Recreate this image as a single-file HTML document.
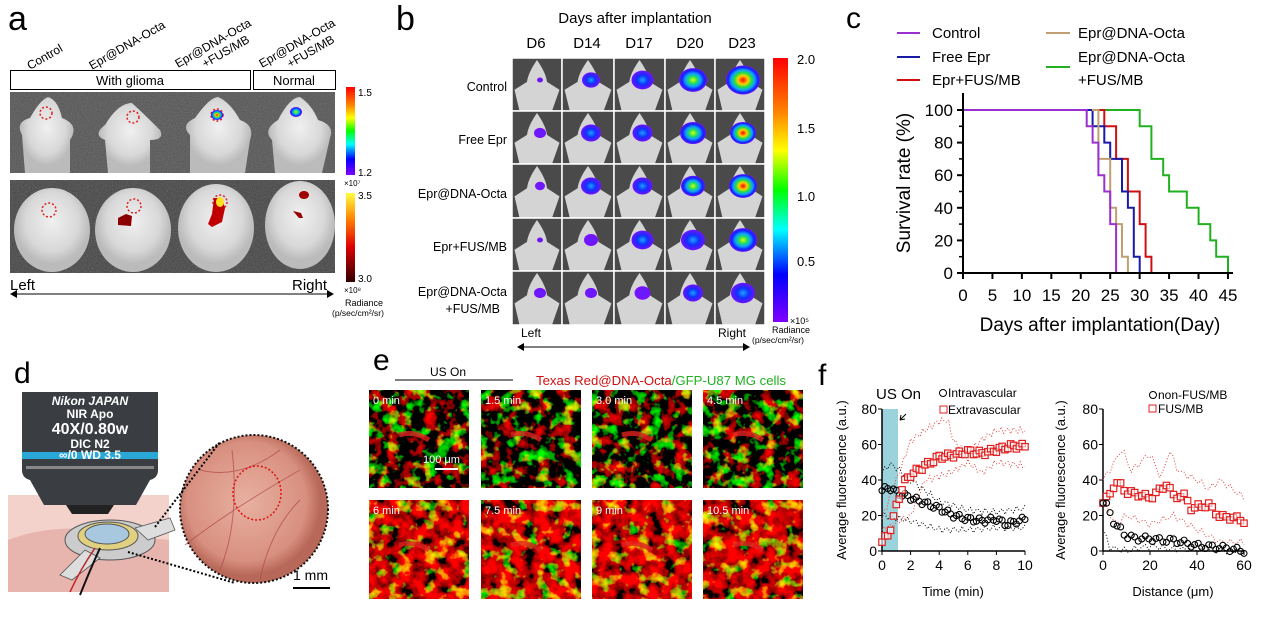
<!DOCTYPE html>
<html><head><meta charset="utf-8"><style>
html,body{margin:0;padding:0;background:#fff}
svg{display:block;font-family:"Liberation Sans",Arial,sans-serif}
</style></head><body>
<svg id="s" width="1270" height="623" viewBox="0 0 1270 623" xmlns="http://www.w3.org/2000/svg">
<defs>
<linearGradient id="rb" x1="0" y1="0" x2="0" y2="1">
<stop offset="0" stop-color="#ff0000"/><stop offset="0.2" stop-color="#ff8000"/><stop offset="0.35" stop-color="#ffff00"/><stop offset="0.5" stop-color="#00ff00"/><stop offset="0.65" stop-color="#00ffff"/><stop offset="0.82" stop-color="#0000ff"/><stop offset="1" stop-color="#8000ff"/></linearGradient>
<linearGradient id="hot" x1="0" y1="0" x2="0" y2="1">
<stop offset="0" stop-color="#ffff40"/><stop offset="0.3" stop-color="#ff8000"/><stop offset="0.6" stop-color="#e00000"/><stop offset="1" stop-color="#300000"/></linearGradient>
<radialGradient id="g1"><stop offset="0" stop-color="#6020ff"/><stop offset="1" stop-color="#7a10ff"/></radialGradient>
<radialGradient id="g2"><stop offset="0" stop-color="#20a0ff"/><stop offset="0.5" stop-color="#1030ff"/><stop offset="1" stop-color="#7010ff"/></radialGradient>
<radialGradient id="g3"><stop offset="0" stop-color="#e0ff00"/><stop offset="0.3" stop-color="#20e060"/><stop offset="0.55" stop-color="#10a0ff"/><stop offset="0.8" stop-color="#1020ff"/><stop offset="1" stop-color="#7010ff"/></radialGradient>
<radialGradient id="g4"><stop offset="0" stop-color="#ff0000"/><stop offset="0.3" stop-color="#ffd000"/><stop offset="0.5" stop-color="#20e040"/><stop offset="0.7" stop-color="#10a0ff"/><stop offset="0.88" stop-color="#1020ff"/><stop offset="1" stop-color="#7010ff"/></radialGradient>
<radialGradient id="mouse" cx="0.5" cy="0.4"><stop offset="0" stop-color="#f0f0f0"/><stop offset="0.7" stop-color="#d8d8d8"/><stop offset="1" stop-color="#bbb"/></radialGradient>
<radialGradient id="skin" cx="0.45" cy="0.45"><stop offset="0" stop-color="#e8b0a0"/><stop offset="0.8" stop-color="#d89080"/><stop offset="1" stop-color="#b86858"/></radialGradient>
<filter id="nz1" x="0" y="0" width="1" height="1"><feTurbulence type="fractalNoise" baseFrequency="0.08" numOctaves="3" seed="3"/><feColorMatrix values="3 0 0 0 -1.5  0 3.5 0 0 -1.85  0 0 0 0 0  0 0 0 0 1"/></filter>
<filter id="nz2" x="0" y="0" width="1" height="1"><feTurbulence type="fractalNoise" baseFrequency="0.08" numOctaves="3" seed="3"/><feColorMatrix values="3 0 0 0 -0.95  0 3 0 0 -1.65  0 0 0 0 0  0 0 0 0 1"/></filter>
<filter id="gn" x="0" y="0" width="1" height="1"><feTurbulence type="fractalNoise" baseFrequency="0.8" numOctaves="1" seed="2"/><feColorMatrix values="0 0 0 0 0.3  0 0 0 0 0.3  0 0 0 0 0.3  0.6 0 0 0 -0.1"/></filter>
</defs>

<!-- Panel a -->
<text x="8" y="30" font-size="34">a</text>
<g font-size="12">
<text transform="translate(30,70) rotate(-30)">Control</text>
<text transform="translate(92,70) rotate(-30)">Epr@DNA-Octa</text>
<text transform="translate(178,68) rotate(-30)">Epr@DNA-Octa</text>
<text transform="translate(205,68) rotate(-30)">+FUS/MB</text>
<text transform="translate(262,68) rotate(-30)">Epr@DNA-Octa</text>
<text transform="translate(290,68) rotate(-30)">+FUS/MB</text>
</g>
<rect x="10.5" y="70.5" width="240" height="19" fill="none" stroke="#000"/>
<rect x="253.5" y="70.5" width="82" height="19" fill="none" stroke="#000"/>
<text x="130" y="85" font-size="13" text-anchor="middle">With glioma</text>
<text x="294" y="85" font-size="13" text-anchor="middle">Normal</text>
<rect x="10" y="92" width="325" height="81" fill="#555"/>
<rect x="10" y="92" width="325" height="81" filter="url(#gn)"/>
<rect x="10" y="180" width="325" height="93" fill="#444"/>
<rect x="10" y="180" width="325" height="93" filter="url(#gn)"/>
<g fill="url(#mouse)">
<path d="M25,173 L22,135 Q15,122 30,118 Q40,100 48,97 Q58,100 62,118 Q80,125 70,140 L70,173Z"/>
<path d="M108,173 L105,140 Q92,135 105,125 Q118,103 132,103 Q145,115 160,130 Q165,140 150,140 L150,173Z"/>
<path d="M190,173 L190,135 Q180,125 195,118 Q210,97 218,97 Q230,102 240,120 Q255,125 250,140 L245,173Z"/>
<path d="M275,173 L272,140 Q262,130 278,120 Q290,97 300,97 Q312,105 318,120 Q335,125 330,138 L322,173Z"/>
<ellipse cx="52" cy="230" rx="38" ry="42"/><ellipse cx="133" cy="230" rx="38" ry="42"/>
<ellipse cx="216" cy="228" rx="38" ry="44"/><ellipse cx="300" cy="225" rx="35" ry="44"/>
</g>
<g fill="none" stroke="#e02020" stroke-width="1.5" stroke-dasharray="2,2">
<circle cx="46" cy="113" r="6"/><circle cx="133" cy="117" r="6"/><circle cx="217" cy="115" r="6"/>
<circle cx="49" cy="210" r="7"/><circle cx="134" cy="206" r="7"/><circle cx="220" cy="202" r="7"/>
</g>
<ellipse cx="217" cy="115" rx="6" ry="5" fill="url(#g4)"/><ellipse cx="296" cy="112" rx="6" ry="5" fill="url(#g3)"/>
<path d="M118,218 l8,-4 l6,2 l-1,10 l-13,-1z" fill="#8b0000"/>
<path d="M214,198 l8,0 l3,10 l-3,14 l-10,5 l-4,-3 l4,-10z" fill="#c00000"/><ellipse cx="220" cy="202" rx="4" ry="5" fill="#ffe020"/>
<ellipse cx="304" cy="195" rx="5" ry="4" fill="#a00000"/><path d="M293,211 l8,2 l2,5 l-4,0z" fill="#900"/>
<rect x="346" y="87" width="9" height="88" fill="url(#rb)"/>
<rect x="346" y="193" width="9" height="89" fill="url(#hot)"/>
<g font-size="10"><text x="358" y="96">1.5</text><text x="358" y="176">1.2</text><text x="344" y="186" font-size="8">×10⁷</text>
<text x="358" y="199">3.5</text><text x="358" y="282">3.0</text><text x="344" y="293" font-size="8">×10⁸</text>
<text x="345" y="306" font-size="9">Radiance</text><text x="332" y="316" font-size="8.5">(p/sec/cm²/sr)</text></g>
<text x="10" y="290" font-size="15">Left</text><text x="292" y="290" font-size="15">Right</text>
<line x1="14" y1="294" x2="330" y2="294" stroke="#000"/><path d="M10,294 l7,-4 v8z M334,294 l-7,-4 v8z"/>

<!-- Panel b -->
<text x="396" y="30" font-size="34">b</text>
<text x="635" y="23" font-size="15" text-anchor="middle">Days after implantation</text>
<g font-size="15" text-anchor="middle"><text x="536" y="48">D6</text><text x="587" y="48">D14</text><text x="639" y="48">D17</text><text x="690" y="48">D20</text><text x="742" y="48">D23</text></g>
<g font-size="12.5" text-anchor="end"><text x="507" y="91">Control</text><text x="507" y="144">Free Epr</text><text x="507" y="198">Epr@DNA-Octa</text><text x="507" y="251">Epr+FUS/MB</text><text x="507" y="296">Epr@DNA-Octa</text><text x="500" y="313">+FUS/MB</text></g>
<g id="bgrid"></g>
<rect x="773" y="58" width="15" height="264" fill="url(#rb)"/>
<g font-size="13"><text x="797" y="64">2.0</text><text x="797" y="133">1.5</text><text x="797" y="201">1.0</text><text x="797" y="266">0.5</text><text x="790" y="324" font-size="9">×10⁵</text>
<text x="772" y="333" font-size="9">Radiance</text><text x="752" y="343" font-size="8.5">(p/sec/cm²/sr)</text></g>
<text x="521" y="337" font-size="12">Left</text><text x="718" y="337" font-size="12">Right</text>
<line x1="522" y1="347" x2="745" y2="347" stroke="#000"/><path d="M517,347 l7,-4 v8z M750,347 l-7,-4 v8z"/>

<!-- Panel c -->
<text x="846" y="28" font-size="30">c</text>
<g font-size="15">
<line x1="897" y1="33" x2="920" y2="33" stroke="#9b30d0" stroke-width="2"/><text x="932" y="38">Control</text>
<line x1="897" y1="57" x2="920" y2="57" stroke="#1a1aa8" stroke-width="2"/><text x="932" y="62">Free Epr</text>
<line x1="897" y1="80" x2="920" y2="80" stroke="#d01010" stroke-width="2"/><text x="932" y="85">Epr+FUS/MB</text>
<line x1="1046" y1="33" x2="1070" y2="33" stroke="#c0a070" stroke-width="2"/><text x="1078" y="38">Epr@DNA-Octa</text>
<line x1="1046" y1="67" x2="1070" y2="67" stroke="#20b020" stroke-width="2"/><text x="1078" y="62">Epr@DNA-Octa</text><text x="1078" y="85">+FUS/MB</text>
</g>
<g fill="none" stroke-width="2">
<path stroke="#20b020" d="M963,110 H1139.7 V126.3 H1151.4 V158.9 H1163.2 V175.2 H1169.1 V191.5 H1186.8 V207.8 H1198.6 V224.1 H1210.3 V240.4 H1216.2 V256.7 H1228 V273"/>
<path stroke="#d01010" d="M963,110 H1104.3 V126.3 H1116.1 V158.9 H1127.9 V191.5 H1139.7 V224.1 H1145.6 V256.7 H1151.4 V273"/>
<path stroke="#1a1aa8" d="M963,110 H1092.6 V126.3 H1104.3 V142.6 H1110.2 V158.9 H1122 V191.5 H1127.9 V207.8 H1133.8 V256.7 H1139.7 V273"/>
<path stroke="#c0a070" d="M1092,110 H1098.4 V158.9 H1110.2 V207.8 H1116.1 V224.1 H1122 V256.7 H1127.9 V273"/>
<path stroke="#9b30d0" d="M963,110 H1086.7 V126.3 H1092.6 V142.6 H1098.4 V175.2 H1104.3 V191.5 H1110.2 V224.1 H1116.1 V273"/>
</g>
<g stroke="#000" stroke-width="2" fill="none"><path d="M963,93 V273 H1233"/></g>
<g id="cax"></g>
<text transform="translate(910,183) rotate(-90)" font-size="19" text-anchor="middle">Survival rate  (%)</text>
<text x="1100" y="331" font-size="19" text-anchor="middle">Days after implantation(Day)</text>

<!-- Panel d -->
<text x="14" y="383" font-size="30">d</text>
<rect x="8" y="495" width="161" height="97" fill="#f3d2cc"/>
<path d="M8,540 Q60,520 120,535 L169,540 V592 H8Z" fill="#e8b4ae"/>
<path d="M22,392 H158 V470 Q158,478 150,480 L136,505 H44 L30,480 Q22,478 22,470Z" fill="#3a3d42"/>
<rect x="22" y="452" width="136" height="7" fill="#29a8d8"/>
<rect x="26" y="466" width="128" height="3" fill="#888"/>
<path d="M66,505 H114 L108,514 H72Z" fill="#222"/>
<g fill="#fff" text-anchor="middle" font-weight="bold">
<text x="90" y="405" font-size="12" font-style="italic">Nikon JAPAN</text>
<text x="90" y="418" font-size="12">NIR Apo</text>
<text x="90" y="434" font-size="16">40X/0.80w</text>
<text x="90" y="448" font-size="12">DIC  N2</text>
<text x="90" y="459" font-size="12">∞/0  WD  3.5</text></g>
<ellipse cx="110" cy="540" rx="45" ry="20" fill="#ccc" stroke="#555"/>
<path d="M135,528 L170,518 L175,530 L148,540Z M85,550 L60,575 L72,580 L100,558Z" fill="#ddd" stroke="#555" stroke-width="0.8"/>
<ellipse cx="108" cy="536" rx="30" ry="14" fill="#e0d080" stroke="#555"/>
<ellipse cx="107" cy="534" rx="22" ry="10" fill="#a8c8e0" stroke="#555"/>
<path d="M100,548 Q90,570 80,595" stroke="#111" stroke-width="2" fill="none"/>
<path d="M95,548 Q80,570 70,592" stroke="#c02020" stroke-width="1.5" fill="none"/>
<ellipse cx="254" cy="509" rx="74" ry="74" fill="url(#skin)" stroke="#111" stroke-width="2" stroke-dasharray="2,2"/>
<g stroke="#b04848" stroke-width="1" fill="none" opacity="0.7"><path d="M185,545 Q230,510 300,470"/><path d="M220,570 Q240,520 232,450"/><path d="M260,580 Q270,530 300,500"/><path d="M200,470 Q240,480 280,450"/></g>
<ellipse cx="257" cy="493" rx="24" ry="27" fill="none" stroke="#e01010" stroke-width="1.5" stroke-dasharray="2,2"/>
<path d="M155,527 L220,442 M128,552 L235,583" stroke="#000" stroke-width="2" stroke-dasharray="2,2"/>
<text x="293" y="580" font-size="14">1 mm</text><line x1="293" y1="588" x2="330" y2="588" stroke="#000" stroke-width="2"/>

<!-- Panel e -->
<text x="373" y="370" font-size="30">e</text>
<text x="430" y="376" font-size="12">US On</text>
<line x1="395" y1="380" x2="513" y2="380" stroke="#000"/>
<text x="536" y="385" font-size="13" fill="#d01010" textLength="250" lengthAdjust="spacingAndGlyphs">Texas Red@DNA-Octa<tspan fill="#20b020">/GFP-U87 MG cells</tspan></text>
<g id="etiles"></g>

<!-- Panel f -->
<text x="818" y="385" font-size="30">f</text>
<rect x="882" y="409" width="16" height="142" fill="#9bd3dc"/>
<g id="fplots"></g>
<text x="876" y="399" font-size="15">US On</text>
<path d="M906,414 L900,420 M900,420 l1,-5 M900,420 l5,-1" stroke="#000" fill="none"/>
<g font-size="12"><circle cx="943" cy="393" r="3.5" fill="none" stroke="#000"/><text x="948" y="397">Intravascular</text>
<rect x="940" y="406" width="7" height="7" fill="none" stroke="#e02020"/><text x="948" y="414">Extravascular</text>
<circle cx="1153" cy="395" r="3.5" fill="none" stroke="#000"/><text x="1158" y="399">non-FUS/MB</text>
<rect x="1149" y="405" width="7" height="7" fill="none" stroke="#e02020"/><text x="1158" y="413">FUS/MB</text></g>
<text transform="translate(846,480) rotate(-90)" font-size="13" text-anchor="middle">Average fluorescence (a.u.)</text>
<text transform="translate(1065,480) rotate(-90)" font-size="13" text-anchor="middle">Average fluorescence (a.u.)</text>
<text x="953" y="596" font-size="13" text-anchor="middle">Time (min)</text>
<text x="1173" y="596" font-size="13" text-anchor="middle">Distance (μm)</text>
</svg>
<script>
var NS="http://www.w3.org/2000/svg";
function el(p,t,a,txt){var e=document.createElementNS(NS,t);for(var k in a)e.setAttribute(k,a[k]);if(txt!=null)e.textContent=txt;p.appendChild(e);return e;}
var bg=document.getElementById('bgrid');
var cx=[512,562,614,665,715,765],ry=[58,111,164,218,271,325];
var blobs=[[[1,3],[2,9],[2,11],[3,14],[4,17]],[[1,6],[2,10],[2,10],[3,13],[4,13]],[[1,5],[2,10],[2,10],[3,12],[4,14]],[[1,3],[1,7],[2,11],[2,12],[3,14]],[[1,6],[1,6],[1,8],[2,10],[2,12]]];
for(var r=0;r<5;r++)for(var c=0;c<5;c++){var x=cx[c],y=ry[r],w=cx[c+1]-x,h=ry[r+1]-y;
el(bg,'rect',{x:x,y:y,width:w,height:h,fill:'#4a4a4a'});
el(bg,'path',{d:'M'+(x+w/2)+','+(y+2)+' Q'+(x+w*0.68)+','+(y+15)+' '+(x+w*0.7)+','+(y+h*0.45)+' L'+(x+w*0.95)+','+(y+h*0.6)+' L'+(x+w*0.8)+','+(y+h)+' L'+(x+w*0.15)+','+(y+h)+' L'+(x+w*0.05)+','+(y+h*0.6)+' L'+(x+w*0.3)+','+(y+h*0.45)+' Q'+(x+w*0.32)+','+(y+15)+' '+(x+w/2)+','+(y+2)+'Z',fill:'#d4d4d4'});
var b=blobs[r][c];el(bg,'ellipse',{cx:x+w/2+3,cy:y+22,rx:b[1],ry:b[1]*0.85,fill:'url(#g'+b[0]+')'});
el(bg,'rect',{x:x,y:y,width:w,height:h,fill:'none',stroke:'#fff','stroke-width':1.5});}
var ca=document.getElementById('cax');
for(var i=0;i<=5;i++){var yy=273-i*32.6;el(ca,'line',{x1:957,y1:yy,x2:963,y2:yy,stroke:'#000','stroke-width':2});el(ca,'text',{x:953,y:yy+6,'font-size':17,'text-anchor':'end'},String(i*20));
if(i<5)el(ca,'line',{x1:959,y1:yy-16.3,x2:963,y2:yy-16.3,stroke:'#000','stroke-width':1.5});}
for(var i=0;i<=9;i++){var xx=963+i*29.44;el(ca,'line',{x1:xx,y1:273,x2:xx,y2:279,stroke:'#000','stroke-width':2});el(ca,'text',{x:xx,y:301,'font-size':17,'text-anchor':'middle'},String(i*5));}
var et=document.getElementById('etiles');var ex=[369,481,592,703],lab=[['0 min','1.5 min','3.0 min','4.5 min'],['6 min','7.5 min','9 min','10.5 min']];
for(var r=0;r<2;r++)for(var c=0;c<4;c++){var x=ex[c],y=r?500:390;
el(et,'rect',{x:x,y:y,width:100,height:r?99:98,fill:'#000'});
el(et,'rect',{x:x,y:y,width:100,height:r?99:98,filter:r?'url(#nz2)':'url(#nz1)'});
el(et,'path',{d:'M'+(x+30)+','+(y+45)+' q15,-5 30,5',stroke:'#e02020','stroke-width':5,fill:'none',opacity:0.8});
el(et,'text',{x:x+4,y:y+14,'font-size':11,fill:'#fff'},lab[r][c]);}
el(et,'text',{x:423,y:463,'font-size':11,fill:'#fff'},'100 μm');el(et,'line',{x1:435,y1:469,x2:458,y2:469,stroke:'#fff','stroke-width':2});
var fp=document.getElementById('fplots');
function interp(k,t){for(var i=0;i<k.length-1;i++)if(t<=k[i+1][0]){var a=k[i],b=k[i+1];return a[1]+(b[1]-a[1])*(t-a[0])/(b[0]-a[0]);}return k[k.length-1][1];}
function axes(x0,x1,labs){el(fp,'path',{d:'M'+x0+',409 V551 H'+x1,stroke:'#000','stroke-width':1.5,fill:'none'});
for(var i=0;i<=4;i++){var yy=551-i*35.5;el(fp,'line',{x1:x0-4,y1:yy,x2:x0,y2:yy,stroke:'#000'});el(fp,'text',{x:x0-5,y:yy+5,'font-size':14,'text-anchor':'end'},String(i*20));}
for(var i=0;i<labs.length;i++){var xx=x0+(x1-x0)*i/(labs.length-1);el(fp,'line',{x1:xx,y1:551,x2:xx,y2:555,stroke:'#000'});el(fp,'text',{x:xx,y:570,'font-size':14,'text-anchor':'middle'},labs[i]);}}
axes(882,1025,['0','2','4','6','8','10']);axes(1103,1244,['0','20','40','60']);
function dotted(k,X,n,max,col){var d='';for(var i=0;i<=n;i++){var t=max*i/n;var v=interp(k,t)+Math.sin(i*2.3)*2;d+=(i?'L':'M')+X(t).toFixed(1)+','+(551-1.775*v).toFixed(1);}el(fp,'path',{d:d,stroke:col,'stroke-width':1,'stroke-dasharray':'1,2',fill:'none'});}
function marks(k,X,n,max,sq,col){for(var i=0;i<=n;i++){var t=max*i/n;var v=interp(k,t)+Math.sin(i*1.7)*1.5;var px=X(t),py=551-1.775*v;
if(sq)el(fp,'rect',{x:px-3.2,y:py-3.2,width:6.4,height:6.4,fill:'#fff','fill-opacity':0.6,stroke:col,'stroke-width':1.2});else el(fp,'circle',{cx:px,cy:py,r:3,fill:'none',stroke:col,'stroke-width':1.1});}}
var X1=function(t){return 882+14.3*t},X2=function(d){return 1103+2.35*d};
dotted([[1,40],[2,62],[3,68],[4,73],[4.6,74],[5,62],[6,55],[7,63],[8,68],[10,68]],X1,60,10,'#e04040');
dotted([[0.8,15],[2,20],[3,40],[4,42],[5,45],[6,50],[7,44],[8,50],[10,48]],X1,60,10,'#e04040');
dotted([[0,44],[0.5,49],[1,47],[2,40],[4,28],[6,23],[8,22],[10,24]],X1,50,10,'#000');
dotted([[0,20],[2,17],[4,12],[6,12],[8,13],[10,13]],X1,50,10,'#000');
marks([[0,34],[0.5,36],[1,33],[2,30],[3,27],[4,24],[5,20],[6,18],[7,17],[8,18],[8.7,15],[10,18]],X1,50,10,false,'#000');
marks([[0,5],[0.5,10],[1,25],[1.5,38],[2,43],[3,48],[4,53],[5,54],[6,56],[7,55],[8,57],[9,59],[10,59]],X1,50,10,true,'#e02020');
dotted([[0,40],[5,50],[8,58],[12,45],[20,55],[25,40],[28,58],[32,45],[40,40],[45,35],[50,40],[60,30]],X2,40,60,'#e04040');
dotted([[0,30],[5,15],[10,20],[20,15],[30,20],[40,12],[50,5],[60,5]],X2,40,60,'#e04040');
dotted([[0,12],[3,2],[10,0],[20,3],[30,1],[40,1],[60,0]],X2,40,60,'#000');
marks([[0,27],[2,30],[5,38],[8,37],[10,33],[15,32],[20,30],[25,35],[27,38],[30,31],[35,31],[38,23],[40,25],[45,26],[50,19],[55,19],[60,17]],X2,40,60,true,'#e02020');
marks([[0,27],[2,25],[4,19],[5,14],[8,12],[10,8],[15,7],[20,7],[25,6],[30,6],[40,3],[50,2],[60,0]],X2,40,60,false,'#000');
</script>
</body></html>
